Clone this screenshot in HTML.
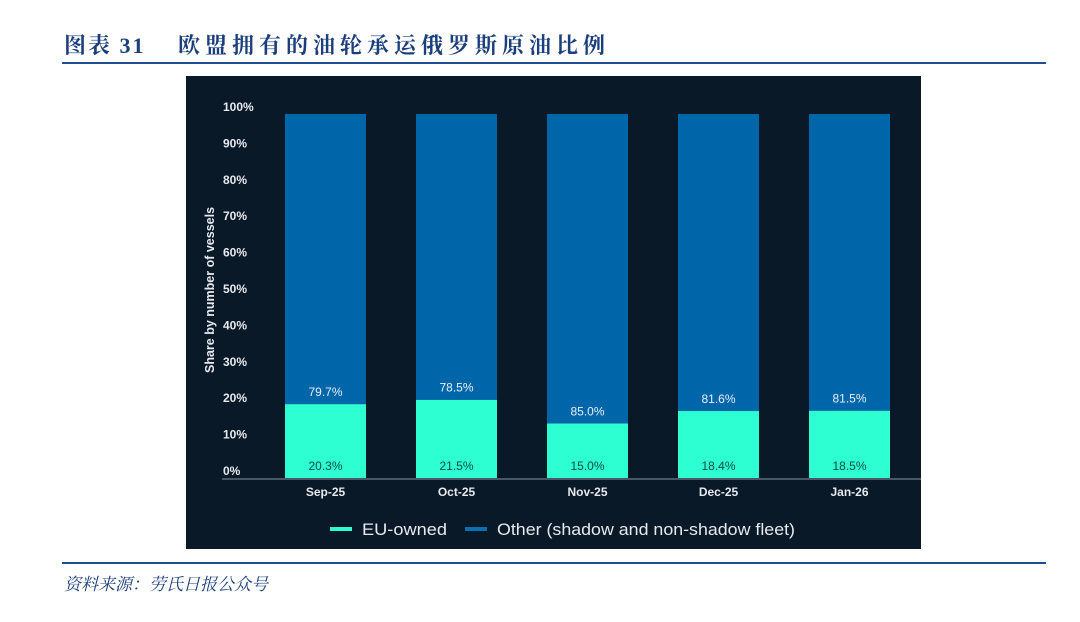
<!DOCTYPE html>
<html><head><meta charset="utf-8"><style>
body{margin:0;width:1080px;height:622px;background:#fff;position:relative;overflow:hidden;font-family:"Liberation Sans",sans-serif}
.t{position:absolute;top:29px;font:bold 22px "Liberation Serif","Noto Serif CJK SC",serif;color:#1b3f7c;white-space:nowrap}
.ln{position:absolute;left:62px;width:984px;height:2px;background:#1f4e8c}
.src{position:absolute;left:64px;top:570px;font:italic 17px "Liberation Serif","Noto Serif CJK SC",serif;color:#1b3f7c}
</style></head><body>
<div class="t" style="left:64px;letter-spacing:2px">图表 31</div>
<div class="t" style="left:178px;letter-spacing:5px">欧盟拥有的油轮承运俄罗斯原油比例</div>
<div class="ln" style="top:62px"></div>
<svg id="c" style="position:absolute;left:0;top:0" width="1080" height="622">
<rect x="186" y="76" width="735" height="473" fill="#0a1928"/>
</svg>
<div class="ln" style="top:562px"></div>
<div class="src">资料来源：劳氏日报公众号</div>
<script>
const categories=["Sep-25","Oct-25","Nov-25","Dec-25","Jan-26"];
const euOwned=[20.3,21.5,15.0,18.4,18.5];
const other=[79.7,78.5,85.0,81.6,81.5];
const yTicks=[0,10,20,30,40,50,60,70,80,90,100];
const svg=document.getElementById('c');const NS='http://www.w3.org/2000/svg';
const y0=478,y100=114;const y=v=>y0-(y0-y100)*v/100;
const x=i=>285+131*i;const bw=81;
function mk(t,a,txt){const e=document.createElementNS(NS,t);for(const k in a)e.setAttribute(k,a[k]);if(txt!=null)e.textContent=txt;svg.appendChild(e);return e;}
yTicks.forEach(v=>{const e=mk('text',{x:223,y:y(v)-3,fill:'#e6e9ee','font-size':12,'font-weight':'bold'},v+'%');

});
const yt=mk('text',{x:0,y:0,fill:'#e6e9ee','font-size':12.5,'font-weight':'bold','text-anchor':'middle',transform:'translate(214,290) rotate(-90)'},'Share by number of vessels');


categories.forEach((c,i)=>{
 const r1=mk('rect',{x:x(i),y:y(euOwned[i]),width:bw,height:y0-y(euOwned[i]),fill:'#2effd2'});
 
 
 const top=euOwned[i]+other[i];
 const r2=mk('rect',{x:x(i),y:y(top),width:bw,height:y(euOwned[i])-y(top),fill:'#0066aa'});
 
 
 const l1=mk('text',{x:x(i)+bw/2,y:470,fill:'#0d4a44','font-size':12,'text-anchor':'middle'},euOwned[i].toFixed(1)+'%');
 
 
 const l2=mk('text',{x:x(i)+bw/2,y:y(euOwned[i])-8,fill:'#e6eef6','font-size':12,'text-anchor':'middle'},other[i].toFixed(1)+'%');
 
 
 const xl=mk('text',{x:x(i)+bw/2,y:496,fill:'#e6e9ee','font-size':12,'font-weight':'bold','text-anchor':'middle'},c);
 
 
});
const ax=mk('line',{x1:222,x2:921,y1:y0+1,y2:y0+1,stroke:'#8a96a3','stroke-width':1});


[[330,'#2effd2','EU-owned',85],[465,'#0a6fb5','Other (shadow and non-shadow fleet)',298]].forEach(([lx,col,txt,tl])=>{
 const g=document.createElementNS(NS,'g');svg.appendChild(g);
 
 
 const s=document.createElementNS(NS,'rect');s.setAttribute('x',lx);s.setAttribute('y',527);s.setAttribute('width',22);s.setAttribute('height',4);s.setAttribute('fill',col);g.appendChild(s);
 const t=document.createElementNS(NS,'text');t.setAttribute('x',lx+32);t.setAttribute('y',535);t.setAttribute('fill','#e6e9ee');t.setAttribute('font-size',17);t.setAttribute('textLength',tl);t.setAttribute('lengthAdjust','spacingAndGlyphs');t.textContent=txt;g.appendChild(t);
});
</script>
</body></html>
